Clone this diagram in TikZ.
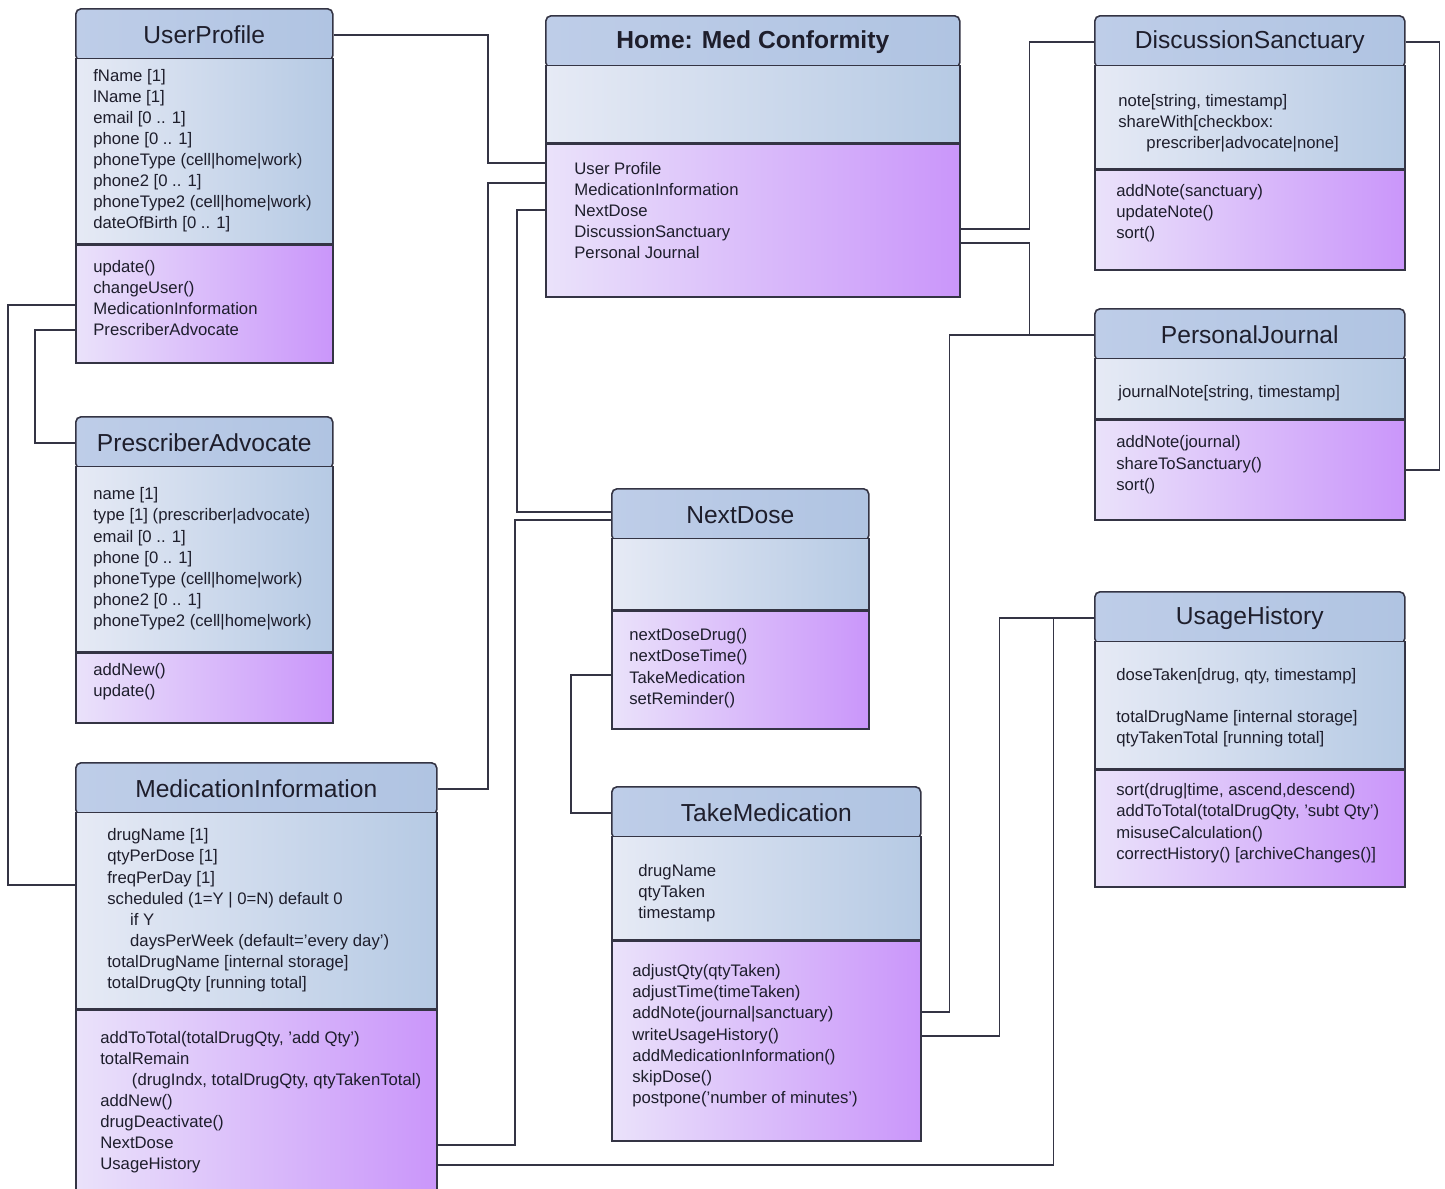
\documentclass[tikz,border=0pt]{standalone}
\usepackage{fontspec}
\setmainfont{Liberation Sans}
\usetikzlibrary{positioning}
\definecolor{edge}{RGB}{52,52,68}
\definecolor{ink}{RGB}{30,30,44}
\definecolor{headl}{RGB}{190,205,232}
\definecolor{headr}{RGB}{176,196,226}
\definecolor{attlight}{RGB}{230,234,245}
\definecolor{attdark}{RGB}{182,202,228}
\definecolor{metlight}{RGB}{234,226,250}
\definecolor{metdark}{RGB}{202,150,250}
\newcommand{\pxl}{0.02cm}
\newcommand{\ind}{\hspace*{13pt}}
\tikzset{
  head/.style={draw=edge, line width=0.9pt, rounded corners=3pt, left color=headl, right color=headr,
               text=ink, font=\fontsize{14}{16}\selectfont, anchor=north west, inner sep=0pt,
               minimum width=#1*\pxl, minimum height=52*\pxl},
  attr/.style={draw=edge, line width=0.9pt, left color=attlight, right color=attdark,
               inner sep=0pt, minimum width=#1*\pxl},
  meth/.style={draw=edge, line width=0.9pt, left color=metlight, right color=metdark,
               inner sep=0pt, minimum width=#1*\pxl},
  members/.style={text=ink, font=\fontsize{9.5}{12}\selectfont, align=left, inner sep=0pt},
  link/.style={draw=edge, line width=0.9pt},
}

\begin{document}
\begin{tikzpicture}[x=\pxl, y=-\pxl]
  \path[use as bounding box, fill=white] (0,0) rectangle (1445,1188);

  % left column
  \node[head=257] (prof) at (75,8) {UserProfile};
  \node[attr=257, minimum height=185*\pxl, below=-4*\pxl of prof] (prof-a) {};
  \node[meth=257, minimum height=118*\pxl, below=0pt of prof-a] (prof-m) {};
  \node[members, right=18*\pxl of prof-a.west] (prof-at) {fName [1]\\ lName [1]\\ email [0 .. 1]\\ phone [0 .. 1]\\ phoneType (cell|home|work)\\ phone2 [0 .. 1]\\ phoneType2 (cell|home|work)\\ dateOfBirth [0 .. 1]};
  \node[members, right=18*\pxl of prof-m.west, yshift=3.5pt] (prof-mt) {update()\\ changeUser()\\ MedicationInformation\\ PrescriberAdvocate};

  \node[head=257] (pa) at (75,416) {PrescriberAdvocate};
  \node[attr=257, minimum height=185*\pxl, below=-4*\pxl of pa] (pa-a) {};
  \node[meth=257, minimum height=70*\pxl, below=0pt of pa-a] (pa-m) {};
  \node[members, right=18*\pxl of pa-a.west] (pa-at) {name [1]\\ type [1] (prescriber|advocate)\\ email [0 .. 1]\\ phone [0 .. 1]\\ phoneType (cell|home|work)\\ phone2 [0 .. 1]\\ phoneType2 (cell|home|work)};
  \node[members, right=18*\pxl of pa-m.west, yshift=3.5pt] (pa-mt) {addNew()\\ update()};

  \node[head=361] (medi) at (75,762) {MedicationInformation};
  \node[attr=361, minimum height=196*\pxl, below=-4*\pxl of medi] (medi-a) {};
  \node[meth=361, minimum height=188*\pxl, below=0pt of medi-a] (medi-m) {};
  \node[members, right=32*\pxl of medi-a.west] (medi-at) {drugName [1]\\ qtyPerDose [1]\\ freqPerDay [1]\\ scheduled (1=Y | 0=N) default 0\\ \ind if Y\\ \ind daysPerWeek (default='every day')\\ totalDrugName [internal storage]\\ totalDrugQty [running total]};
  \node[members, right=25*\pxl of medi-m.west, yshift=1pt] (medi-mt) {addToTotal(totalDrugQty, 'add Qty')\\ totalRemain\\ \hspace*{18pt}(drugIndx, totalDrugQty, qtyTakenTotal)\\ addNew()\\ drugDeactivate()\\ NextDose\\ UsageHistory};

  % middle column
  \node[head=414, font=\fontsize{14}{16}\selectfont\bfseries] (home) at (545,15) {Home: Med Conformity};
  \node[attr=414, minimum height=77*\pxl, below=-4*\pxl of home] (home-a) {};
  \node[meth=414, minimum height=153*\pxl, below=0pt of home-a] (home-m) {};
  \node[members, right=29*\pxl of home-m.west, yshift=5.5pt] (home-mt) {User Profile\\ MedicationInformation\\ NextDose\\ DiscussionSanctuary\\ Personal Journal};

  \node[head=257] (dose) at (611,488) {NextDose};
  \node[attr=257, minimum height=71*\pxl, below=-4*\pxl of dose] (dose-a) {};
  \node[meth=257, minimum height=118*\pxl, below=0pt of dose-a] (dose-m) {};
  \node[members, right=18*\pxl of dose-m.west, yshift=1pt] (dose-mt) {nextDoseDrug()\\ nextDoseTime()\\ TakeMedication\\ setReminder()};

  \node[head=309] (take) at (611,786) {TakeMedication};
  \node[attr=309, minimum height=103*\pxl, below=-4*\pxl of take] (take-a) {};
  \node[meth=309, minimum height=200*\pxl, below=0pt of take-a] (take-m) {};
  \node[members, right=27*\pxl of take-a.west, yshift=-3pt] (take-at) {drugName\\ qtyTaken\\ timestamp};
  \node[members, right=21*\pxl of take-m.west, yshift=3pt] (take-mt) {adjustQty(qtyTaken)\\ adjustTime(timeTaken)\\ addNote(journal|sanctuary)\\ writeUsageHistory()\\ addMedicationInformation()\\ skipDose()\\ postpone('number of minutes')};

  % right column
  \node[head=310] (ds) at (1094,15) {DiscussionSanctuary};
  \node[attr=310, minimum height=103*\pxl, below=-4*\pxl of ds] (ds-a) {};
  \node[meth=310, minimum height=100*\pxl, below=0pt of ds-a] (ds-m) {};
  \node[members, right=24*\pxl of ds-a.west, yshift=-3.5pt] (ds-at) {note[string, timestamp]\\ shareWith[checkbox:\\ \hspace*{16pt}prescriber|advocate|none]};
  \node[members, right=22*\pxl of ds-m.west, yshift=4pt] (ds-mt) {addNote(sanctuary)\\ updateNote()\\ sort()};

  \node[head=310] (pj) at (1094,308) {PersonalJournal};
  \node[attr=310, minimum height=60*\pxl, below=-4*\pxl of pj] (pj-a) {};
  \node[meth=310, minimum height=100*\pxl, below=0pt of pj-a] (pj-m) {};
  \node[members, right=24*\pxl of pj-a.west, yshift=-3pt] (pj-at) {journalNote[string, timestamp]};
  \node[members, right=22*\pxl of pj-m.west, yshift=3pt] (pj-mt) {addNote(journal)\\ shareToSanctuary()\\ sort()};

  \node[head=310] (usage) at (1094,591) {UsageHistory};
  \node[attr=310, minimum height=127*\pxl, below=-4*\pxl of usage] (usage-a) {};
  \node[meth=310, minimum height=117*\pxl, below=0pt of usage-a] (usage-m) {};
  \node[members, right=22*\pxl of usage-a.west, yshift=-1.5pt] (usage-at) {doseTaken[drug, qty, timestamp]\\[12pt] totalDrugName [internal storage]\\ qtyTakenTotal [running total]};
  \node[members, right=22*\pxl of usage-m.west, yshift=3pt] (usage-mt) {sort(drug|time, ascend,descend)\\ addToTotal(totalDrugQty, 'subt Qty')\\ misuseCalculation()\\ correctHistory() [archiveChanges()]};

  % associations
  \draw[link] (prof.east) -| (488,163) -- (home-m.west |- 0,163);
  \draw[link] (medi.east) -| (488,183) -- (home-m.west |- 0,183);
  \draw[link] (home-m.west |- 0,210) -| (517,512) -- (dose.west |- 0,512);
  \draw[link] (medi-m.east |- 0,1145) -| (515,520) -- (dose.west |- 0,520);
  \draw[link] (dose-m.west |- 0,675) -- ++(-40,0) |- (take.west);
  \draw[link] (home-m.east |- 0,229) -- ++(69,0) |- (ds.west);
  \draw[link] (home-m.east |- 0,243) -- ++(69,0) |- (pj.west);
  \draw[link] (ds.east) -- ++(34,0) |- (pj-m.east);
  \draw[link] (prof-m.west |- 0,305) -- ++(-67,0) |- (medi-a.west |- 0,885);
  \draw[link] (prof-m.west |- 0,330) -- ++(-40,0) |- (pa.west);
  \draw[link] (take-m.east |- 0,1012) -- ++(28,0) |- (pj.west);
  \draw[link] (take-m.east |- 0,1036) -- ++(78,0) |- (usage.west);
  \draw[link] (medi-m.east |- 0,1165) -- ++(616,0) |- (usage.west);
\end{tikzpicture}
\end{document}
